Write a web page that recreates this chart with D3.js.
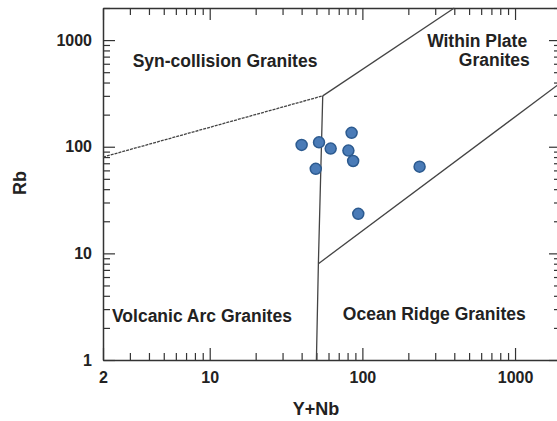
<!DOCTYPE html>
<html>
<head>
<meta charset="utf-8">
<script src="https://cdn.jsdelivr.net/npm/d3@7"></script>
<style>
  body { margin: 0; background: #fff; }
  svg text { font-family: 'Liberation Sans', Arial, sans-serif; font-weight: bold; fill: #222; }
</style>
</head>
<body>
<div id="chart"></div>
<script>
// Sample analyses (Y+Nb vs Rb, ppm)
const ynb = [40, 52, 62, 85, 81, 87, 49.5, 237, 94]
const rb = [104, 110, 96, 135, 92, 73.5, 62, 65, 23.5]

// Field boundaries (Pearce et al. 1984)
const synColBoundary = [[2, 80], [55, 300]]
const wpgBoundary = [[55, 300], [400, 2000]]
const vagBoundary = [[55, 300], [51.5, 8], [50, 1]]
const orgBoundary = [[51.5, 8], [2000, 400]]

// Field labels
const fieldLabels = [
    { text: 'Syn-collision Granites', at: [12.6, 624], anchor: 'middle' },
    { text: 'Within Plate', at: [1200, 962], anchor: 'end' },
    { text: 'Granites', at: [1250, 638], anchor: 'end' },
    { text: 'Volcanic Arc Granites', at: [2.29, 2.53], anchor: 'start' },
    { text: 'Ocean Ridge Granites', at: [74.5, 2.64], anchor: 'start' }
]

const xMajor = [2, 10, 100, 1000]
const yMajor = [1, 10, 100, 1000]

const width = 557, height = 421
const margin = { left: 103, right: 561, top: 8, bottom: 360 }

const svg = d3.select('#chart').append('svg')
    .attr('width', width).attr('height', height)

const x = d3.scaleLog().domain([2, 2000]).range([margin.left, margin.right])
const y = d3.scaleLog().domain([1, 2000]).range([margin.bottom, margin.top])

// minor ticks on every integer multiple within each decade
function logTicks(lo, hi) {
    const out = []
    for (let p = 1; p <= 1000; p *= 10) {
        for (let m = 1; m <= 9; m++) {
            const v = m * p
            if (v >= lo && v <= hi) out.push(v)
        }
    }
    return out
}
const xTicks = logTicks(2, 2000)
const yTicks = logTicks(1, 2000)

function styleAxis(g, majors, horiz) {
    g.select('.domain').attr('stroke', '#333').attr('stroke-width', 1.5)
    g.selectAll('.tick line').attr('stroke', '#333').attr('stroke-width', 1.2)
        .each(function (d) {
            const len = majors.includes(d) ? 12 : 7
            const ln = d3.select(this)
            if (horiz) ln.attr('y2', +ln.attr('y2') < 0 ? -len : len)
            else ln.attr('x2', +ln.attr('x2') < 0 ? -len : len)
        })
    g.selectAll('.tick text').attr('font-size', '16px').attr('fill', '#222')
}

const fmt = majors => d => majors.includes(d) ? d3.format('d')(d) : ''

svg.append('g')
    .attr('transform', `translate(0,${margin.bottom})`)
    .call(d3.axisBottom(x).tickValues(xTicks).tickSizeInner(-7).tickSizeOuter(0).tickPadding(12).tickFormat(fmt(xMajor)))
    .call(g => styleAxis(g, xMajor, true))

svg.append('g')
    .attr('transform', `translate(0,${margin.top})`)
    .call(d3.axisTop(x).tickValues(xTicks).tickSizeInner(-7).tickSizeOuter(0).tickFormat(''))
    .call(g => styleAxis(g, xMajor, true))

svg.append('g')
    .attr('transform', `translate(${margin.left},0)`)
    .call(d3.axisLeft(y).tickValues(yTicks).tickSizeInner(-7).tickSizeOuter(0).tickPadding(11).tickFormat(fmt(yMajor)))
    .call(g => styleAxis(g, yMajor, false))

svg.append('g')
    .attr('transform', `translate(${margin.right},0)`)
    .call(d3.axisRight(y).tickValues(yTicks).tickSizeInner(-7).tickSizeOuter(0).tickFormat(''))
    .call(g => styleAxis(g, yMajor, false))

// Boundaries
const line = d3.line().x(d => x(d[0])).y(d => y(d[1]))
const bounds = [
    { pts: synColBoundary, dash: '3,1' },
    { pts: wpgBoundary, dash: null },
    { pts: vagBoundary, dash: null },
    { pts: orgBoundary, dash: null }
]
bounds.forEach(b => {
    svg.append('path')
        .attr('d', line(b.pts))
        .attr('fill', 'none')
        .attr('stroke', '#444')
        .attr('stroke-width', 1.3)
        .attr('stroke-dasharray', b.dash)
})

// Field labels
fieldLabels.forEach(l => {
    svg.append('text')
        .attr('x', x(l.at[0])).attr('y', y(l.at[1]))
        .attr('text-anchor', l.anchor)
        .attr('dominant-baseline', 'middle')
        .attr('font-size', '17.5px')
        .text(l.text)
})

// Sample points
svg.selectAll('.pt')
    .data(ynb.map((v, i) => [v, rb[i]])).enter()
    .append('circle')
    .attr('cx', d => x(d[0]))
    .attr('cy', d => y(d[1]))
    .attr('r', 5.5)
    .attr('fill', '#4a7bb7')
    .attr('stroke', '#2c5a8f')
    .attr('stroke-width', 1.5)

// Axis titles
svg.append('text')
    .attr('x', 316).attr('y', 410)
    .attr('text-anchor', 'middle').attr('dominant-baseline', 'middle')
    .attr('font-size', '18px')
    .text('Y+Nb')

svg.append('text')
    .attr('transform', 'translate(21,183) rotate(-90)')
    .attr('text-anchor', 'middle').attr('dominant-baseline', 'middle')
    .attr('font-size', '18px')
    .text('Rb')
</script>
</body>
</html>
